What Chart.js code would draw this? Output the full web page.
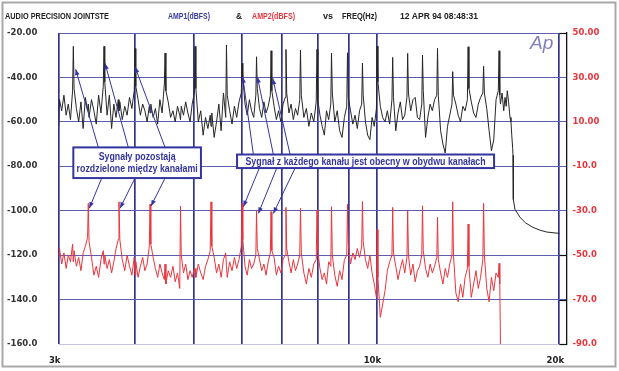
<!DOCTYPE html>
<html>
<head>
<meta charset="utf-8">
<script src="https://cdn.jsdelivr.net/npm/chart.js@4/dist/chart.umd.min.js"></script>
<style>
  html, body { margin: 0; padding: 0; background: #fff; }
</style>
</head>
<body>
<canvas id="myChart" width="619" height="371"></canvas>
<script>
// Data (one row per semitone step)
const freqHz = [
  3000, 3009, 3034, 3060, 3086, 3111, 3137, 3162,
  3171, 3180, 3208, 3236, 3264, 3291, 3319, 3347,
  3356, 3366, 3397, 3428, 3459, 3490, 3521, 3552,
  3562, 3572, 3604, 3635, 3666, 3697, 3728, 3760,
  3770, 3782, 3817, 3853, 3888, 3923, 3959, 3994,
  4006, 4018, 4053, 4088, 4124, 4159, 4194, 4229,
  4241, 4253, 4291, 4328, 4365, 4402, 4439, 4477,
  4489, 4503, 4543, 4584, 4625, 4665, 4706, 4746,
  4760, 4773, 4814, 4854, 4895, 4935, 4975, 5016,
  5029, 5045, 5092, 5139, 5186, 5233, 5280, 5327,
  5343, 5359, 5407, 5456, 5504, 5552, 5601, 5649,
  5665, 5682, 5734, 5786, 5838, 5889, 5941, 5993,
  6010, 6027, 6078, 6129, 6180, 6230, 6281, 6332,
  6349, 6367, 6421, 6475, 6529, 6582, 6636, 6690,
  6708, 6728, 6786, 6845, 6903, 6962, 7020, 7079,
  7098, 7118, 7178, 7238, 7299, 7359, 7419, 7479,
  7499, 7523, 7596, 7669, 7742, 7814, 7887, 7960,
  7984, 8007, 8074, 8142, 8210, 8277, 8345, 8412,
  8435, 8461, 8540, 8619, 8699, 8778, 8857, 8936,
  8962, 8988, 9066, 9145, 9223, 9301, 9380, 9458,
  9484, 9511, 9593, 9674, 9756, 9837, 9918, 10000,
  10027, 10057, 10149, 10240, 10332, 10423, 10514, 10606,
  10636, 10667, 10760, 10853, 10947, 11040, 11133, 11226,
  11257, 11290, 11387, 11485, 11583, 11680, 11778, 11876,
  11908, 11943, 12047, 12152, 12257, 12361, 12466, 12570,
  12605, 12642, 12754, 12866, 12979, 13091, 13203, 13315,
  13352, 13392, 13513, 13633, 13754, 13874, 13994, 14115,
  14155, 14198, 14326, 14454, 14583, 14711, 14839, 14967,
  15010, 15055, 15191, 15327, 15463, 15599, 15735, 15871,
  15916, 15960, 16000, 16100, 16200, 16280, 16350, 16420,
  16500, 16590, 16650, 16700, 16760, 16780, 16800, 16907,
  17100, 17232, 17600, 18099, 18600, 19068, 20000
];

// AMP1 (dBFS), black trace, left axis
const amp1 = [
  -62, -50, -55, -48, -57, -52, -59, -46,
  -26, -45, -54, -60, -51, -63, -49, -55,
  -52, -58, -50, -55, -61, -48, -56, -44,
  -26, -42, -57, -48, -63, -52, -58, -50,
  -55, -51, -59, -53, -57, -49, -54, -46,
  -27, -44, -50, -57, -52, -55, -60, -53,
  -56, -52, -58, -54, -61, -50, -56, -43,
  -29, -46, -51, -58, -55, -60, -53, -57,
  -59, -53, -57, -51, -56, -60, -52, -47,
  -26, -45, -60, -55, -66, -58, -63, -57,
  -62, -56, -67, -60, -52, -64, -47, -58,
  -25.4, -48, -55, -61, -53, -58, -51, -47,
  -33.6, -40, -52, -57, -50, -55, -58, -48,
  -30.7, -45, -54, -58, -51, -56, -53, -48,
  -28, -46, -53, -59, -55, -60, -52, -49,
  -27.4, -47, -56, -52, -59, -54, -57, -50,
  -27.7, -48, -58, -54, -62, -56, -60, -51,
  -27.4, -50, -57, -62, -66, -55, -59, -52,
  -29, -47, -60, -55, -64, -67, -58, -53,
  -28.9, -49, -55, -61, -57, -63, -55, -52,
  -33.6, -48, -60, -66, -68, -58, -62, -54,
  -25.9, -42, -53, -58, -60, -55, -61, -50,
  -31, -49, -64, -56, -51, -59, -57, -49,
  -29.2, -47, -55, -50, -49, -58, -59, -52,
  -29.9, -46, -67, -58, -52, -55, -50, -48,
  -26.9, -48, -64, -70, -74, -62, -57, -52,
  -37.4, -48, -52, -57, -60, -53, -55, -50,
  -26.2, -45, -51, -56, -58, -52, -49, -47,
  -35, -47, -54, -64, -73, -68, -50, -46,
  -28, -48, -52, -47, -55, -49, -53, -46,
  -51, -58, -60, -66, -72, -75, -95, -99.5,
  -101.5, -103, -105.5, -107.5, -108.8, -109.6, -110.2
];

// AMP2 (dBFS), red trace, right axis
const amp2 = [
  -51, -47, -54, -49, -56, -50, -53, -45,
  -53, -48, -55, -51, -57, -49, -46, -42,
  -26.7, -44, -51, -59, -55, -60, -52, -48,
  -54, -50, -56, -52, -58, -53, -47, -43,
  -26, -43, -52, -57, -50, -55, -59, -51,
  -59, -53, -60, -55, -51, -57, -54, -46,
  -27, -45, -51, -56, -60, -54, -58, -61,
  -54, -63, -57, -60, -55, -62, -58, -65,
  -28, -50, -58, -54, -61, -57, -60, -56,
  -56, -60, -54, -58, -61, -55, -52, -48,
  -26, -46, -51, -58, -54, -60, -52, -49,
  -55, -60, -53, -57, -51, -56, -52, -46,
  -26.7, -43, -55, -59, -52, -56, -54, -50,
  -29.7, -47, -52, -57, -54, -59, -53, -49,
  -30.4, -48, -51, -59, -55, -58, -52, -50,
  -28.5, -47, -53, -58, -52, -57, -54, -50,
  -28.9, -49, -58, -63, -56, -60, -54, -52,
  -29.7, -48, -56, -61, -58, -63, -53, -55,
  -28.2, -50, -59, -64, -57, -61, -52, -50,
  -27, -45, -54, -49, -52, -47, -51, -46,
  -25.9, -44, -52, -56, -50, -58, -63, -69,
  -38.5, -60, -78, -72, -66, -57, -53, -50,
  -28.5, -49, -55, -61, -56, -52, -58, -51,
  -30, -50, -59, -54, -62, -57, -55, -50,
  -27.8, -48, -56, -60, -54, -58, -55, -51,
  -33, -52, -58, -63, -56, -60, -54, -50,
  -26, -50, -67, -71, -63, -69, -60, -56,
  -36, -55, -69, -63, -57, -65, -60, -52,
  -26.7, -50, -65, -71, -60, -66, -58, -60,
  -53.7, -63, -90
];

const xGridValues = [3000, 4000, 5000, 6000, 7000, 8000, 9000, 10000, 20000];
const xLabelValues = [3000, 10000, 20000];
const xLabelTexts = ['3k', '10k', '20k'];

// annotations, in data units (Hz, left axis dBFS)
const notes = [
  {
    lines: ['Sygnały pozostają', 'rozdzielone między kanałami'],
    box: [3171, 5143, -71.5, -85.3],
    arrows: [
      [3486, -71.5, 3199, -36.3],
      [3906, -71.5, 3575, -33.6],
      [4489, -71.5, 4006, -35.2],
      [3531, -85.3, 3369, -98.9],
      [4006, -85.3, 3785, -98.9],
      [4489, -85.3, 4257, -97.9]
    ]
  },
  {
    lines: ['Sygnał z każdego kanału jest obecny w obydwu kanałach'],
    box: [5897, 15618, -74.7, -80.8],
    arrows: [
      [6273, -74.7, 6026, -39.7],
      [6767, -74.7, 6369, -39.7],
      [7210, -74.7, 6751, -40.4],
      [6417, -80.8, 6040, -98.2],
      [6854, -80.8, 6393, -101.2],
      [7348, -80.8, 6767, -101.2]
    ]
  }
];

const header = [
  { t: 'AUDIO PRECISION JOINTSTE', x: 5, w: 104, c: '#222' },
  { t: 'AMP1(dBFS)', x: 168, w: 42, c: '#3a3aa0' },
  { t: '&', x: 236, w: 6, c: '#222' },
  { t: 'AMP2(dBFS)', x: 252, w: 43, c: '#e8353d' },
  { t: 'vs', x: 323, w: 10, c: '#222' },
  { t: 'FREQ(Hz)', x: 342, w: 35, c: '#222' },
  { t: '12 APR 94 08:48:31', x: 400, w: 78, c: '#222' }
];

const navy = '#3434a0';
const tickFont = { family: 'DejaVu Sans', size: 8.5, weight: 'bold' };

function arrow(ctx, x1, y1, x2, y2) {
  const a = Math.atan2(y2 - y1, x2 - x1);
  ctx.beginPath();
  ctx.moveTo(x1, y1);
  ctx.lineTo(x2, y2);
  ctx.stroke();
  ctx.beginPath();
  ctx.moveTo(x2, y2);
  ctx.lineTo(x2 - 6 * Math.cos(a) + 2.3 * Math.sin(a), y2 - 6 * Math.sin(a) - 2.3 * Math.cos(a));
  ctx.lineTo(x2 - 6 * Math.cos(a) - 2.3 * Math.sin(a), y2 - 6 * Math.sin(a) + 2.3 * Math.cos(a));
  ctx.closePath();
  ctx.fill();
}

// background, header, frame, right axis marks, Ap logo and notes
const apDecor = {
  id: 'ap_decor',
  beforeDraw: (chart) => {
    const ctx = chart.ctx;
    ctx.save();
    ctx.fillStyle = '#fff';
    ctx.fillRect(0, 0, chart.width, chart.height);
    ctx.restore();
  },
  afterDraw: (chart) => {
    const ctx = chart.ctx;
    const xs = chart.scales.x, ys = chart.scales.y, y2 = chart.scales.y2;
    const area = chart.chartArea;
    ctx.save();

    // outer frame
    ctx.strokeStyle = '#a8a8a8';
    ctx.lineWidth = 2;
    ctx.strokeRect(2.5, 2.5, 613, 364);

    // header line
    ctx.font = 'bold 9px "Liberation Sans"';
    ctx.textBaseline = 'middle';
    ctx.textAlign = 'left';
    header.forEach(h => {
      ctx.fillStyle = h.c;
      ctx.fillText(h.t, h.x, 17, h.w);
    });

    // short black marks on the right axis
    ctx.strokeStyle = '#111';
    ctx.lineWidth = 1.2;
    const x20k = xs.getPixelForValue(20000);
    [50, -50, -70, -90].forEach(v => {
      const py = Math.round(y2.getPixelForValue(v)) + 0.5;
      ctx.beginPath();
      ctx.moveTo(x20k, py);
      ctx.lineTo(area.right, py);
      ctx.stroke();
    });

    // Ap logo
    ctx.font = 'italic 19px "Liberation Sans"';
    ctx.fillStyle = '#8080c0';
    ctx.textBaseline = 'alphabetic';
    ctx.fillText('Ap', 530, 49);

    // notes with arrows
    notes.forEach(n => {
      ctx.strokeStyle = navy;
      ctx.fillStyle = navy;
      ctx.lineWidth = 1;
      n.arrows.forEach(a => {
        arrow(ctx, xs.getPixelForValue(a[0]), ys.getPixelForValue(a[1]),
          xs.getPixelForValue(a[2]), ys.getPixelForValue(a[3]));
      });
      const bx1 = xs.getPixelForValue(n.box[0]), bx2 = xs.getPixelForValue(n.box[1]);
      const by1 = ys.getPixelForValue(n.box[2]), by2 = ys.getPixelForValue(n.box[3]);
      ctx.fillStyle = '#fff';
      ctx.fillRect(bx1, by1, bx2 - bx1, by2 - by1);
      ctx.lineWidth = 2;
      ctx.strokeRect(bx1, by1, bx2 - bx1, by2 - by1);
      ctx.fillStyle = navy;
      ctx.font = 'bold 10.5px "Liberation Sans"';
      ctx.textAlign = 'center';
      ctx.textBaseline = 'middle';
      const lh = 12.6;
      const cy = (by1 + by2) / 2 - (n.lines.length - 1) * lh / 2;
      n.lines.forEach((t, i) => {
        const w = ctx.measureText(t).width * 0.84;
        ctx.fillText(t, (bx1 + bx2) / 2, cy + i * lh + 0.5, w);
      });
    });
    ctx.restore();
  }
};

const ctx = document.getElementById('myChart').getContext('2d');
const chart = new Chart(ctx, {
  type: 'line',
  data: {
    datasets: [
      {
        label: 'AMP1(dBFS)',
        data: freqHz.map((f, i) => ({ x: f, y: amp1[i] })),
        yAxisID: 'y',
        borderColor: '#262626',
        borderWidth: 1,
        pointRadius: 0,
        tension: 0,
        fill: false
      },
      {
        label: 'AMP2(dBFS)',
        data: amp2.map((v, i) => ({ x: freqHz[i], y: v })),
        yAxisID: 'y2',
        borderColor: '#e8353d',
        borderWidth: 1,
        pointRadius: 0,
        tension: 0,
        fill: false
      }
    ]
  },
  plugins: [apDecor],
  options: {
    responsive: false,
    animation: false,
    devicePixelRatio: 1,
    layout: { padding: { top: 33, left: 7, right: 0, bottom: 0 } },
    plugins: {
      legend: { display: false },
      title: { display: false },
      tooltip: { enabled: false }
    },
    scales: {
      x: {
        type: 'logarithmic',
        min: 3000,
        max: 20550,
        afterBuildTicks: (s) => { s.ticks = xGridValues.map(v => ({ value: v })); },
        afterFit: (s) => { s.height = 27; },
        border: { display: false },
        grid: { color: '#34348f', lineWidth: 1.7, drawTicks: false },
        ticks: {
          autoSkip: false,
          maxRotation: 0,
          padding: 12,
          labelOffset: -4,
          color: '#222',
          font: tickFont,
          callback: (v) => {
            const k = xLabelValues.indexOf(v);
            return k >= 0 ? xLabelTexts[k] : '';
          }
        }
      },
      y: {
        position: 'left',
        min: -160,
        max: -20,
        afterFit: (s) => { s.width = 51.7; },
        border: { display: false },
        grid: {
          color: (c) => c.tick && c.tick.value === -160 ? '#c4c4e0' : '#5c5cb0',
          lineWidth: 1,
          drawTicks: false
        },
        ticks: {
          stepSize: 20,
          crossAlign: 'far',
          color: '#333',
          font: tickFont,
          callback: (v) => v.toFixed(2).slice(0, 6)
        }
      },
      y2: {
        position: 'right',
        min: -90,
        max: 50,
        afterFit: (s) => { s.width = 52.5; },
        border: { display: true, color: '#111', width: 1.3 },
        grid: { display: false, drawTicks: false },
        ticks: {
          stepSize: 20,
          padding: 6,
          color: '#e8353d',
          font: tickFont,
          callback: (v) => v.toFixed(2).slice(0, 5)
        }
      }
    }
  }
});
</script>
</body>
</html>
